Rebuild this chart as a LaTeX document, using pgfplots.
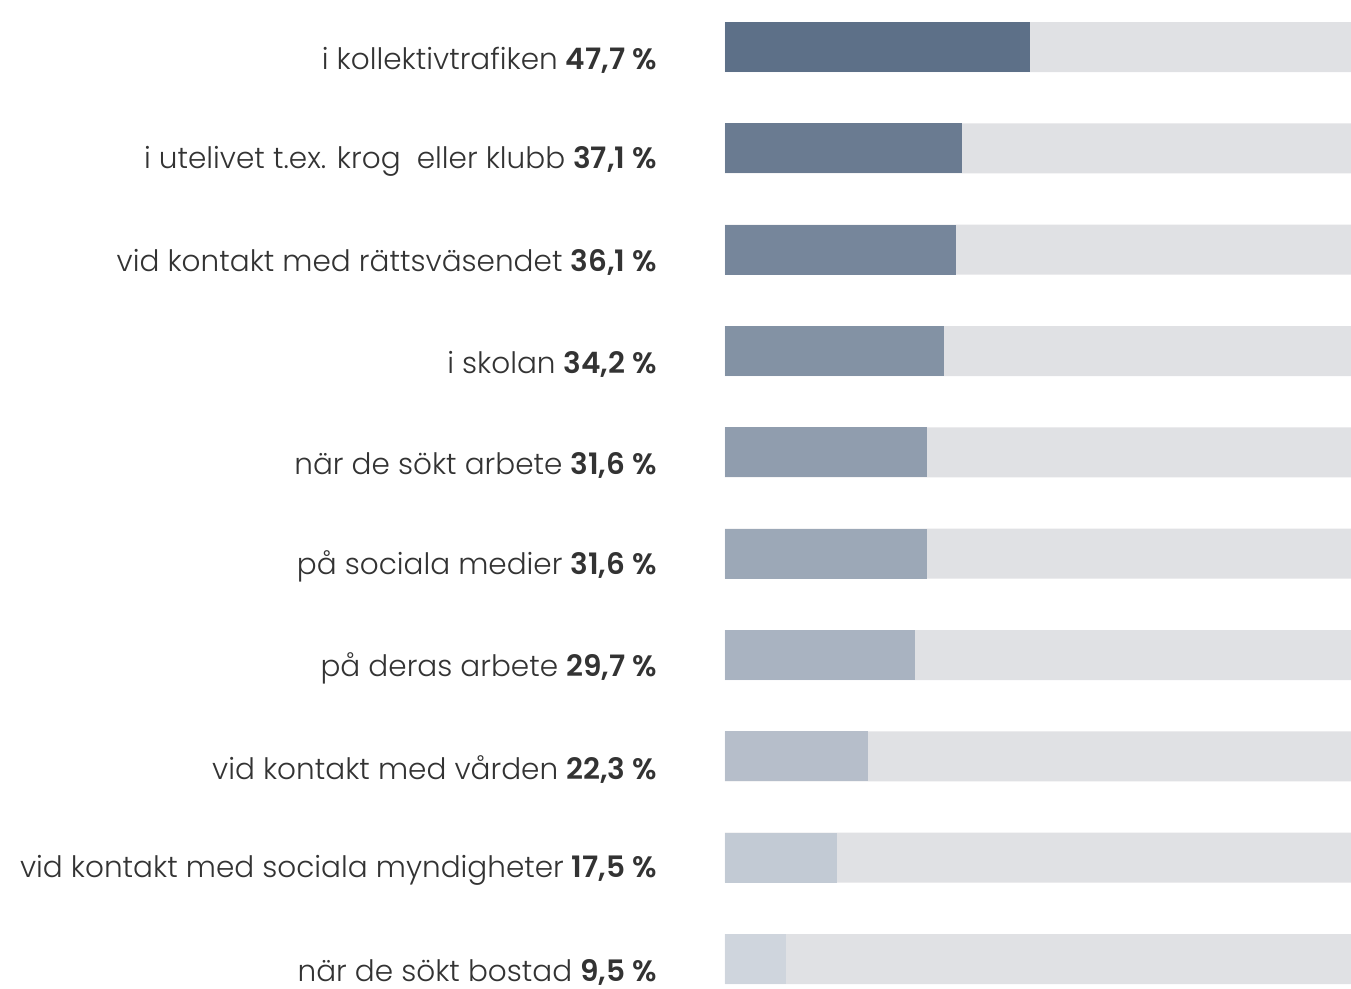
\documentclass[border=0pt]{standalone}
\usepackage{fontspec}
\setmainfont{Poppins Light}[BoldFont={Poppins SemiBold}]
\usepackage{pgfplots}
\pgfplotsset{compat=1.18}
\definecolor{c1}{RGB}{93,112,136}
\definecolor{c2}{RGB}{106,123,145}
\definecolor{c3}{RGB}{118,134,155}
\definecolor{c4}{RGB}{131,146,164}
\definecolor{c5}{RGB}{144,157,174}
\definecolor{c6}{RGB}{156,168,183}
\definecolor{c7}{RGB}{169,179,193}
\definecolor{c8}{RGB}{182,190,202}
\definecolor{c9}{RGB}{194,202,212}
\definecolor{c10}{RGB}{207,213,221}
\definecolor{bg}{RGB}{224,225,228}
\definecolor{txt}{RGB}{51,51,51}
\begin{document}
\begin{tikzpicture}
\path[use as bounding box] (0,0) rectangle (1351bp,989bp);
\begin{axis}[
  at={(725bp,0bp)}, anchor=south west,
  scale only axis, width=626bp, height=989bp,
  xmin=0, xmax=97.9,
  ymin=-0.464, ymax=9.296, y dir=reverse,
  axis line style={draw=none},
  xtick=\empty,
  ytick={0,...,9},
  major tick length=0pt,
  yticklabels={
    {i kollektivtrafiken \textbf{47,7~\%}},
    {i utelivet t.ex. krog~ eller klubb \textbf{37,1~\%}},
    {vid kontakt med rättsväsendet \textbf{36,1~\%}},
    {i skolan \textbf{34,2~\%}},
    {när de sökt arbete \textbf{31,6~\%}},
    {på sociala medier \textbf{31,6~\%}},
    {på deras arbete \textbf{29,7~\%}},
    {vid kontakt med vården \textbf{22,3~\%}},
    {vid kontakt med sociala myndigheter \textbf{17,5~\%}},
    {när de sökt bostad \textbf{9,5~\%}}},
  yticklabel style={font=\fontsize{29.5bp}{33bp}\selectfont, text=txt, anchor=east, inner sep=0pt, xshift=-68bp, yshift=-13bp},
  xbar, bar width=50bp, bar shift=0pt,
  clip=true,
]
\addplot[fill=bg, draw=none] coordinates {(97.9,0) (97.9,1) (97.9,2) (97.9,3) (97.9,4) (97.9,5) (97.9,6) (97.9,7) (97.9,8) (97.9,9)};
\addplot[fill=c1, draw=none] coordinates {(47.7,0)};
\addplot[fill=c2, draw=none] coordinates {(37.1,1)};
\addplot[fill=c3, draw=none] coordinates {(36.1,2)};
\addplot[fill=c4, draw=none] coordinates {(34.2,3)};
\addplot[fill=c5, draw=none] coordinates {(31.6,4)};
\addplot[fill=c6, draw=none] coordinates {(31.6,5)};
\addplot[fill=c7, draw=none] coordinates {(29.7,6)};
\addplot[fill=c8, draw=none] coordinates {(22.3,7)};
\addplot[fill=c9, draw=none] coordinates {(17.5,8)};
\addplot[fill=c10, draw=none] coordinates {(9.5,9)};
\end{axis}
\end{tikzpicture}
\end{document}
